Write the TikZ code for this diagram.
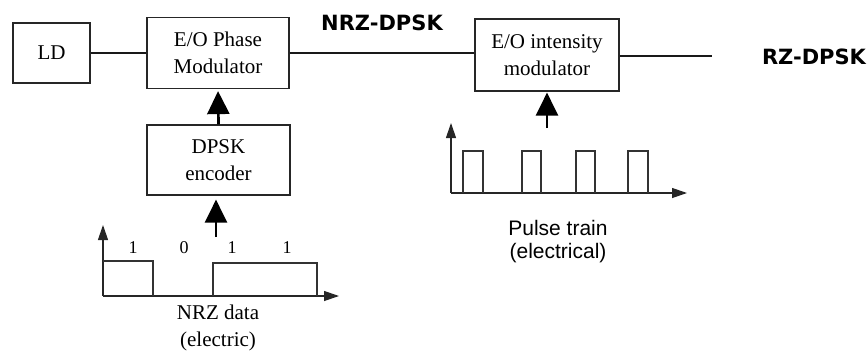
\documentclass[tikz,border=0pt]{standalone}
\usepackage{fontspec}
\setmainfont{Liberation Serif}
\newfontfamily\arialf{Liberation Sans}
\newfontfamily\dejaf{DejaVu Sans}
\usetikzlibrary{arrows.meta}
\begin{document}
\begin{tikzpicture}[x=1pt,y=-1pt,
  box/.style={draw=black!85,line width=1.2pt,inner sep=0pt,align=center,font=\fontsize{21}{27}\selectfont},
  mainline/.style={line width=2.8pt,draw=black!90},
  bigarrow/.style={line width=2.7pt,draw=black,-{Triangle[width=22pt,length=23pt]}},
  axis/.style={line width=1.2pt,draw=black!85,-{Triangle[width=10pt,length=15pt]}},
  sig/.style={line width=1.2pt,draw=black!80},
  lbl/.style={inner sep=0pt,align=center,font=\fontsize{21}{27}\selectfont},
  bit/.style={inner sep=0pt,font=\fontsize{18}{20}\selectfont},
  sanslbl/.style={inner sep=0pt,align=center,font=\arialf\fontsize{21}{23}\selectfont},
  bold/.style={inner sep=0pt,font=\dejaf\bfseries\fontsize{21}{24}\selectfont}]
\useasboundingbox (0,0) rectangle (868,354);
\node[box,minimum width=77pt,minimum height=60pt] (ld) at (51.5,53) {LD};
\node[box,minimum width=142pt,minimum height=71pt] (phase) at (218,53) {E/O Phase\\Modulator};
\node[box,minimum width=143pt,minimum height=70pt] (dpsk) at (218.5,160) {DPSK\\encoder};
\node[box,minimum width=144pt,minimum height=72pt] (inten) at (547,55) {E/O intensity\\modulator};
\node[bold] (nrzdpsk) at (382,23) {NRZ-DPSK};
\node[bold] (rzdpsk) at (814,57) {RZ-DPSK};
\coordinate (rend) at (712,56);
\draw[mainline] (ld.east) -- (phase.west);
\draw[mainline] (phase.east) -- (inten.west |- phase.east);
\draw[mainline] (inten.east |- rend) -- (rend);
\draw[bigarrow,shorten >=2pt] (dpsk.north) -- (phase.south);
\coordinate (a1) at (216,237);
\draw[bigarrow,shorten >=4pt] (a1) -- (a1 |- dpsk.south);
\coordinate (a2) at (547,128);
\draw[bigarrow,shorten >=1pt] (a2) -- (inten.south);
% NRZ plot
\draw[axis] (103,296) -- (103,225);
\draw[axis] (103,296) -- (339,296);
\draw[sig] (103,261) -- (153,261) -- (153,296);
\draw[sig] (213,296) -- (213,263) -- (317,263) -- (317,296);
\node[bit] (b1) at (133,248) {1};
\node[bit] (b2) at (184,248) {0};
\node[bit] (b3) at (232,248) {1};
\node[bit] (b4) at (287,248) {1};
\node[lbl] (nrzlbl) at (218,328) {NRZ data\\(electric)};
% pulse train
\draw[axis] (451,193) -- (451,123);
\draw[axis] (451,193) -- (687,193);
\foreach \xa/\xb in {463/483,522/541,576/595,628/648}
  \draw[sig] (\xa,193) -- (\xa,151) -- (\xb,151) -- (\xb,193);
\node[sanslbl] (ptlbl) at (558,242) {Pulse train\\(electrical)};
\end{tikzpicture}
\end{document}
